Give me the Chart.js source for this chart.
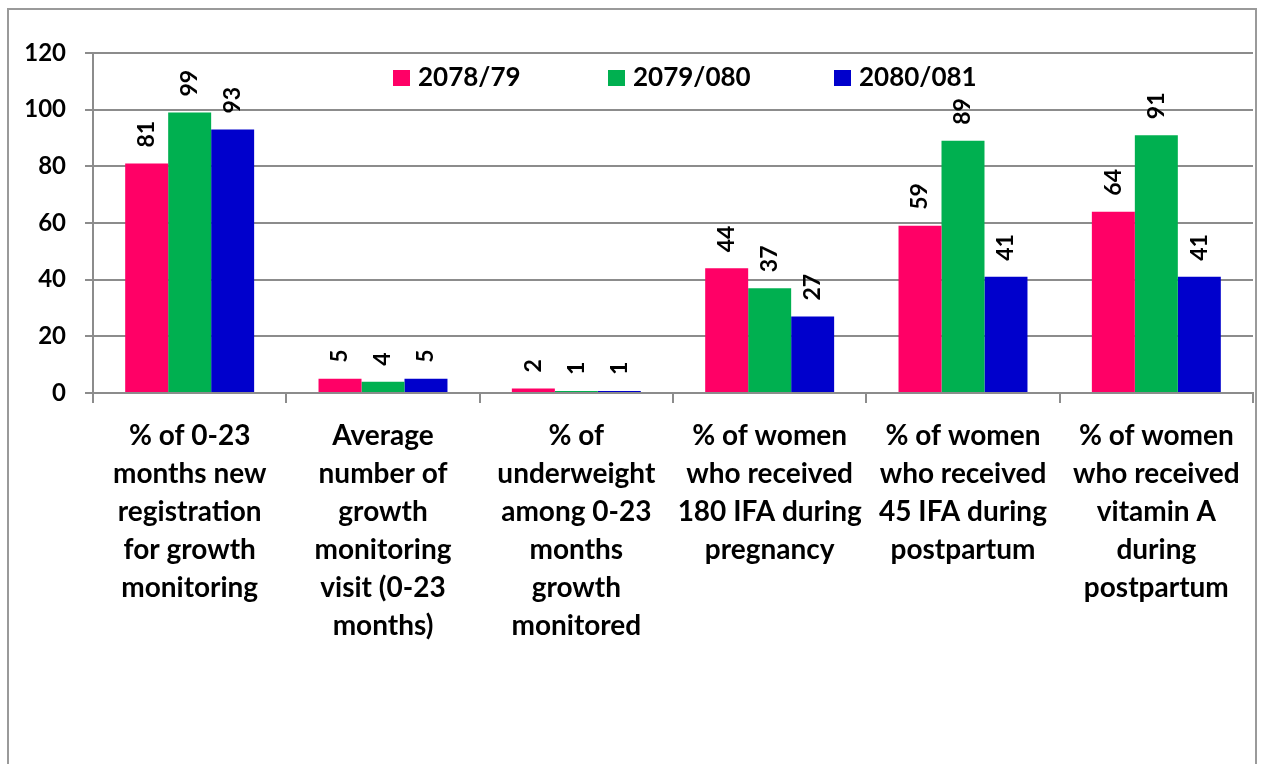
<!DOCTYPE html>
<html>
<head>
<meta charset="utf-8">
<script src="https://cdn.jsdelivr.net/npm/chart.js@4"></script>
<style>
html,body{margin:0;padding:0;background:#fff;}
canvas{display:block;}
</style>
</head>
<body>
<canvas id="c" width="1264" height="764"></canvas>
<script>
const categories = [
  ["% of 0-23","months new","registration","for growth","monitoring"],
  ["Average","number of","growth","monitoring","visit (0-23","months)"],
  ["% of","underweight","among 0-23","months","growth","monitored"],
  ["% of women","who received","180 IFA during","pregnancy"],
  ["% of women","who received","45 IFA during","postpartum"],
  ["% of women","who received","vitamin A","during","postpartum"]
];
const seriesNames = ["2078/79","2079/080","2080/081"];
const values2078 = [81, 5, 1.6, 44, 59, 64];
const values2079 = [99, 4, 0.7, 37, 89, 91];
const values2080 = [93, 5, 0.7, 27, 41, 41];
const seriesColors = ["#FF0066","#00B050","#0000CC"];
const yTicks = [0,20,40,60,80,100,120];

const FONT = "Lato, 'Liberation Sans', sans-serif";
const GRID = "#8c8c8c";

const framePlugin = {
  id: 'frame',
  beforeDraw(chart) {
    const ctx = chart.ctx;
    ctx.save();
    ctx.fillStyle = '#fff';
    ctx.fillRect(0,0,chart.width,chart.height);
    ctx.strokeStyle = '#9a9a9a';
    ctx.lineWidth = 2;
    ctx.strokeRect(8, 9, 1248, 800);
    ctx.restore();
  }
};

const legendPlugin = {
  id: 'customLegend',
  afterDraw(chart) {
    const ctx = chart.ctx;
    const xs = [393, 608, 834];
    ctx.save();
    ctx.font = "bold 26px " + FONT;
    ctx.textBaseline = 'middle';
    ctx.textAlign = 'left';
    chart.data.datasets.forEach((ds, i) => {
      ctx.fillStyle = ds.backgroundColor;
      ctx.fillRect(xs[i], 70, 17, 16);
      ctx.fillStyle = '#000';
      ctx.fillText(ds.label, xs[i] + 25, 78);
    });
    ctx.restore();
  }
};

const valueLabelPlugin = {
  id: 'valueLabels',
  afterDatasetsDraw(chart) {
    const ctx = chart.ctx;
    ctx.save();
    ctx.font = "bold 23px " + FONT;
    ctx.fillStyle = '#000';
    ctx.textAlign = 'left';
    ctx.textBaseline = 'middle';
    chart.data.datasets.forEach((ds, di) => {
      const meta = chart.getDatasetMeta(di);
      meta.data.forEach((bar, i) => {
        const v = ds.data[i];
        ctx.save();
        ctx.translate(bar.x, bar.y - 16);
        ctx.rotate(-Math.PI / 2);
        ctx.fillText(String(Math.round(v)), 0, 0);
        ctx.restore();
      });
    });
    ctx.restore();
  }
};

new Chart(document.getElementById('c'), {
  type: 'bar',
  data: {
    labels: categories,
    datasets: [
      { label: seriesNames[0], data: values2078, backgroundColor: seriesColors[0] },
      { label: seriesNames[1], data: values2079, backgroundColor: seriesColors[1] },
      { label: seriesNames[2], data: values2080, backgroundColor: seriesColors[2] }
    ]
  },
  options: {
    responsive: false,
    animation: false,
    devicePixelRatio: 1,
    layout: { padding: { top: 53, right: 11, left: 0, bottom: 0 } },
    datasets: { bar: { categoryPercentage: 0.667, barPercentage: 1.0, borderWidth: 0 } },
    plugins: { legend: { display: false }, tooltip: { enabled: false } },
    scales: {
      x: {
        type: 'category',
        offset: true,
        grid: { display: true, drawOnChartArea: false, drawTicks: true, tickLength: 10, color: GRID, lineWidth: 2 },
        border: { display: true, color: GRID, width: 2 },
        ticks: {
          color: '#000',
          font: { family: FONT, size: 28, weight: 'bold', lineHeight: 1.36 },
          padding: 14,
          maxRotation: 0,
          minRotation: 0,
          autoSkip: false
        },
        afterFit(s) { s.height = 371; }
      },
      y: {
        min: 0,
        max: 120,
        afterBuildTicks(s) { s.ticks = yTicks.map(v => ({ value: v })); },
        grid: { color: GRID, lineWidth: 2, tickLength: 8, drawTicks: true },
        border: { display: true, color: GRID, width: 2 },
        ticks: {
          color: '#000',
          font: { family: FONT, size: 24, weight: 'bold' },
          padding: 19
        },
        afterFit(s) { s.width = 93; }
      }
    }
  },
  plugins: [framePlugin, legendPlugin, valueLabelPlugin]
});
</script>
</body>
</html>
